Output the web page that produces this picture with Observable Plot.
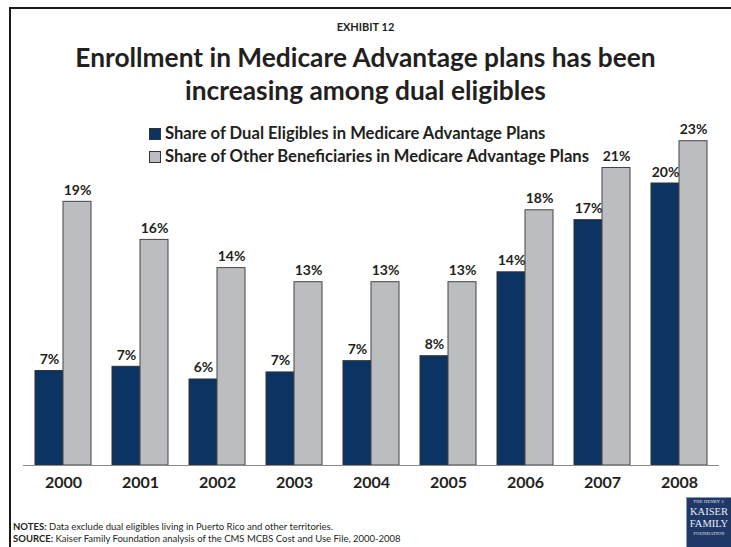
<!DOCTYPE html>
<html>
<head>
<meta charset="utf-8">
<script src="https://cdn.jsdelivr.net/npm/d3@7"></script>
<script src="https://cdn.jsdelivr.net/npm/@observablehq/plot@0.6"></script>
<style>
  html, body { margin: 0; padding: 0; background: #fff; }
  #page { position: relative; width: 731px; height: 547px; overflow: hidden; background: #fff; font-family: Lato, "Open Sans", sans-serif; color: #231f20; }
  #frame { position: absolute; left: 9px; top: 7px; width: 800px; height: 600px; border: 2px solid #1a1a1a; box-sizing: border-box; }
  #exhibit { position: absolute; left: 0; width: 731px; top: 20px; text-align: center; font-weight: bold; font-size: 11px; }
  #title { position: absolute; left: 0; width: 731px; top: 41px; text-align: center; font-weight: bold; font-size: 26.3px; line-height: 33px; }
  #chart { position: absolute; left: 0; top: 100px; }
  #legend { position: absolute; left: 149px; top: 122px; font-weight: bold; font-size: 16.6px; line-height: 23px; }
  .lg { display: flex; align-items: center; white-space: nowrap; }
  .sw { width: 12px; height: 12px; border: 1px solid #333; margin-right: 4px; box-sizing: border-box; }
  #notes { position: absolute; left: 13px; top: 521px; font-size: 9.5px; line-height: 12px; }
  #logo { position: absolute; left: 686px; top: 497px; width: 46px; height: 52px; background: #1f3868; border: 1px solid #8a9ab8; box-sizing: border-box; color: #e8ecf4; font-family: "Liberation Serif", "DejaVu Serif", serif; text-align: center; overflow: hidden; }
  #logo .s { font-size: 4.5px; line-height: 8px; letter-spacing: 0.2px; white-space: nowrap; }
  #logo .b { font-size: 10.5px; line-height: 12px; white-space: nowrap; }
</style>
</head>
<body>
<div id="page">
  <div id="frame"></div>
  <div id="exhibit">EXHIBIT 12</div>
  <div id="title">Enrollment in Medicare Advantage plans has been<br>increasing among dual eligibles</div>
  <div id="chart"></div>
  <div id="legend"></div>
  <div id="notes"><b>NOTES:</b> Data exclude dual eligibles living in Puerto Rico and other territories.<br><b>SOURCE:</b> Kaiser Family Foundation analysis of the CMS MCBS Cost and Use File, 2000-2008</div>
  <div id="logo"><div class="s">THE HENRY J.</div><div class="b">KAISER</div><div class="b">FAMILY</div><div class="s">FOUNDATION</div></div>
</div>
<script>
const years = ["2000", "2001", "2002", "2003", "2004", "2005", "2006", "2007", "2008"];
const seriesNames = ["Share of Dual Eligibles in Medicare Advantage Plans", "Share of Other Beneficiaries in Medicare Advantage Plans"];
const dualShare = [6.7, 7.0, 6.1, 6.6, 7.4, 7.75, 13.7, 17.4, 20.0];
const otherShare = [18.7, 16.0, 14.0, 13.0, 13.0, 13.0, 18.1, 21.1, 23.0];
const dualLabels = ["7%", "7%", "6%", "7%", "7%", "8%", "14%", "17%", "20%"];
const otherLabels = ["19%", "16%", "14%", "13%", "13%", "13%", "18%", "21%", "23%"];
const colors = ["#0b3462", "#bcbdc1"];

const dual = years.map((y, i) => ({year: y, value: dualShare[i], label: dualLabels[i]}));
const other = years.map((y, i) => ({year: y, value: otherShare[i], label: otherLabels[i]}));

const half = 28;
const plot = Plot.plot({
  width: 731,
  height: 405,
  marginTop: 12.5,
  marginBottom: 40,
  marginLeft: 23,
  marginRight: 12,
  style: {fontFamily: "Lato, 'Open Sans', sans-serif", color: "#231f20", background: "transparent"},
  x: {domain: years, paddingInner: 0.275, paddingOuter: 0.14, label: null},
  y: {domain: [0, 25], axis: null},
  marks: [
    Plot.barY(dual, {x: "year", y: "value", fill: colors[0], stroke: "#333", strokeWidth: 1, insetRight: half}),
    Plot.barY(other, {x: "year", y: "value", fill: colors[1], stroke: "#444", strokeWidth: 1, insetLeft: half}),
    Plot.ruleY([0], {stroke: "#8a8a8a", strokeWidth: 1.2}),
    Plot.text(dual, {x: "year", y: "value", text: "label", dx: -half / 2, dy: -7, lineAnchor: "bottom", fontSize: 14, fontWeight: "bold", fill: "#231f20"}),
    Plot.text(other, {x: "year", y: "value", text: "label", dx: half / 2, dy: -7, lineAnchor: "bottom", fontSize: 14, fontWeight: "bold", fill: "#231f20"}),
    Plot.axisX({tickSize: 0, tickPadding: 11, fontSize: 16, fontWeight: "bold", fill: "#231f20"})
  ]
});
document.getElementById("chart").appendChild(plot);

const legend = document.getElementById("legend");
seriesNames.forEach((name, i) => {
  const row = document.createElement("div");
  row.className = "lg";
  const sw = document.createElement("div");
  sw.className = "sw";
  sw.style.background = colors[i];
  const t = document.createElement("span");
  t.textContent = name;
  row.appendChild(sw);
  row.appendChild(t);
  legend.appendChild(row);
});
</script>
</body>
</html>
